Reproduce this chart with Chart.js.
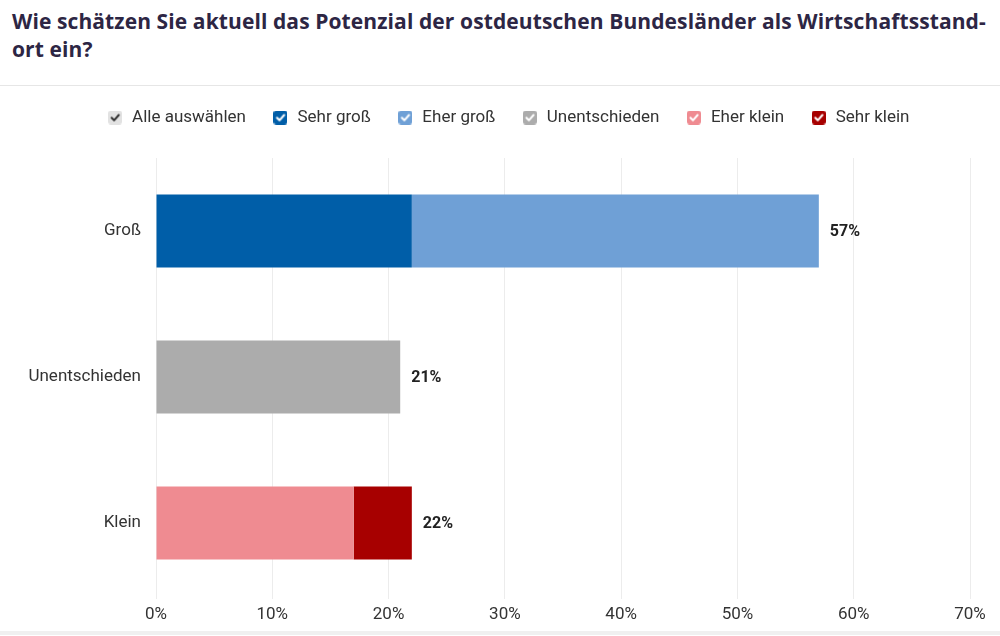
<!DOCTYPE html>
<html lang="de">
<head>
<meta charset="utf-8">
<script src="https://cdn.jsdelivr.net/npm/chart.js@4"></script>
<style>
  body { margin: 0; background: #fff; width: 1000px; height: 636px; overflow: hidden; }
  #title {
    font-family: "Open Sans", sans-serif; font-weight: 700; font-size: 21px;
    line-height: 27.5px; color: #2d2644; padding: 8px 0 0 12px; height: 77px;
    border-bottom: 1px solid #e6e6e6; letter-spacing: 0.1px; white-space: nowrap;
  }
  #wrap { position: relative; width: 1000px; height: 551px; margin-top: -6px; }
  #foot { height: 4px; background: #f0f0f0; }
</style>
</head>
<body>
<div id="title">Wie schätzen Sie aktuell das Potenzial der ostdeutschen Bundesländer als Wirtschaftsstand-<br>ort ein?</div>
<div id="wrap"><canvas id="chart"></canvas></div>
<div id="foot"></div>
<script>
const categories = ['Groß', 'Unentschieden', 'Klein'];
const seriesNames = ['Sehr groß', 'Eher groß', 'Unentschieden', 'Eher klein', 'Sehr klein'];
const sehrGross = [22, null, null];
const eherGross = [35, null, null];
const unentschieden = [null, 21, null];
const eherKlein = [null, null, 17];
const sehrKlein = [null, null, 5];
const xTicks = [0, 10, 20, 30, 40, 50, 60, 70];
const colors = ['#005ea8', '#6fa0d6', '#acacac', '#ef8b91', '#a70000'];

const seriesValues = [sehrGross, eherGross, unentschieden, eherKlein, sehrKlein];

function makeBox(fill, check) {
    const c = document.createElement('canvas');
    c.width = 14; c.height = 14;
    const g = c.getContext('2d');
    g.fillStyle = fill;
    g.beginPath();
    g.roundRect(0, 0, 14, 14, 3);
    g.fill();
    g.strokeStyle = check;
    g.lineWidth = 2;
    g.lineCap = 'round';
    g.lineJoin = 'round';
    g.beginPath();
    g.moveTo(3.5, 7.2);
    g.lineTo(6, 9.8);
    g.lineTo(10.7, 4.5);
    g.stroke();
    return c;
}

const boxes = colors.map(c => makeBox(c, '#ffffff'));
const allBox = makeBox('#e2e2e2', '#333333');

// totals at the end of each bar
const totalsPlugin = {
    id: 'totals',
    afterDatasetsDraw(chart) {
        const ctx = chart.ctx;
        const xs = chart.scales.x;
        const ys = chart.scales.y;
        ctx.save();
        ctx.font = 'bold 16px Roboto';
        ctx.fillStyle = '#222';
        ctx.textBaseline = 'middle';
        categories.forEach((cat, i) => {
            let total = 0;
            seriesValues.forEach(s => { total += s[i] || 0; });
            ctx.fillText(total + '%', xs.getPixelForValue(total) + 11, ys.getPixelForValue(i) + 1);
        });
        ctx.restore();
    }
};

// fixed legend height, legend row nudged to the reference position
const legendHeight = {
    id: 'legendHeight',
    beforeInit(chart) {
        const orig = chart.legend.fit;
        chart.legend.fit = function () {
            orig.bind(chart.legend)();
            this.height = 78;
        };
    },
    afterLayout(chart) {
        chart.legend.left += 23;
        chart.legend.right += 23;
        chart.legend.top += 3;
    }
};

new Chart(document.getElementById('chart'), {
    type: 'bar',
    data: {
        labels: categories,
        datasets: seriesNames.map((name, i) => ({
            label: name,
            data: seriesValues[i],
            backgroundColor: colors[i],
            borderWidth: 0,
            barPercentage: 0.5,
            categoryPercentage: 1
        }))
    },
    options: {
        indexAxis: 'y',
        responsive: true,
        maintainAspectRatio: false,
        animation: false,
        layout: { padding: { left: 0, right: 30, top: 0, bottom: 0 } },
        scales: {
            x: {
                stacked: true,
                min: 0, max: 70,
                afterBuildTicks(scale) { scale.ticks = xTicks.map(v => ({ value: v })); },
                afterFit(scale) { scale.height = 35; },
                grid: { color: '#ececec', drawTicks: true, tickLength: 3 },
                border: { display: false },
                ticks: {
                    padding: 6,
                    color: '#333',
                    font: { family: 'Roboto', size: 17 },
                    callback: v => v + '%'
                }
            },
            y: {
                stacked: true,
                afterFit(scale) { scale.width = 156; },
                grid: { display: false, drawTicks: false },
                border: { display: false },
                ticks: {
                    padding: 15,
                    color: '#333',
                    font: { family: 'Roboto', size: 17 }
                }
            }
        },
        plugins: {
            tooltip: { enabled: false },
            legend: {
                position: 'top',
                align: 'center',
                labels: {
                    usePointStyle: true,
                    boxHeight: 14,
                    padding: 26,
                    color: '#333',
                    font: { family: 'Roboto', size: 17 },
                    generateLabels(chart) {
                        const items = Chart.defaults.plugins.legend.labels.generateLabels(chart);
                        items.forEach((it, i) => { it.pointStyle = boxes[i]; });
                        items.unshift({ text: 'Alle auswählen', pointStyle: allBox, hidden: false, datasetIndex: -1, fontColor: '#333' });
                        return items;
                    }
                }
            }
        }
    },
    plugins: [totalsPlugin, legendHeight]
});
</script>
</body>
</html>
